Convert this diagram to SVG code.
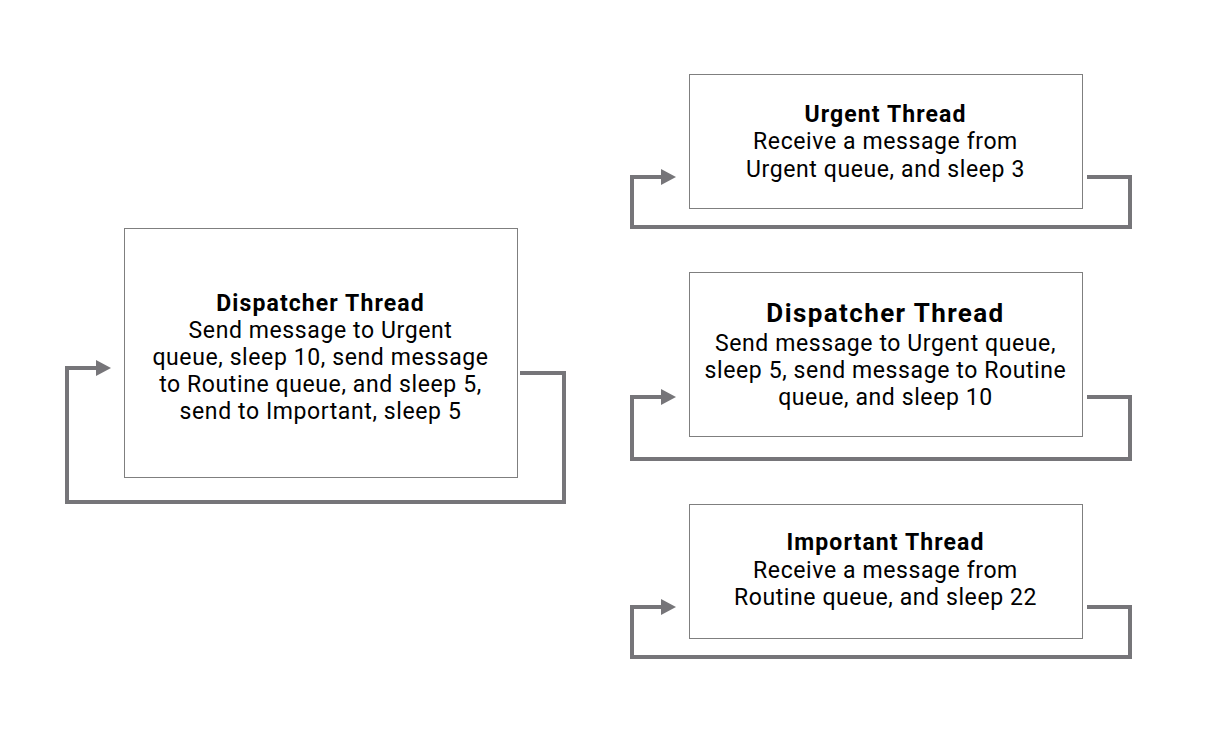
<svg xmlns="http://www.w3.org/2000/svg" width="1215" height="732" viewBox="0 0 1215 732">
<defs>
<style>
.box{fill:#fff;stroke:#7f7f7f;stroke-width:1}
.t{font-family:Roboto,"Open Sans",sans-serif;font-size:23px;letter-spacing:0.6px;fill:#000;text-anchor:middle}
.b{font-weight:bold;font-size:23px;letter-spacing:1.1px}
.big{font-size:26px;letter-spacing:1.4px}
.c{fill:none;stroke:#767579;stroke-width:4}
.ah{fill:#767579}
</style>
</defs>
<rect width="1215" height="732" fill="#fff"/>
<g id="connectors">
<path class="c" d="M520,373 H564 V502 H67 V368 H97"/>
<path class="ah" d="M96,360 L111,368 L96,376 Z"/>
<path class="c" d="M1087,177 H1130 V227 H632 V177 H662"/>
<path class="ah" d="M661,169 L676,177 L661,185 Z"/>
<path class="c" d="M1087,397 H1130 V459 H632 V397 H662"/>
<path class="ah" d="M661,389 L676,397 L661,405 Z"/>
<path class="c" d="M1087,607 H1130 V657 H632 V607 H662"/>
<path class="ah" d="M661,599 L676,607 L661,615 Z"/>
</g>
<g id="dispatcher-left">
<rect class="box" x="124.5" y="228.5" width="393" height="249"/>
<text class="t"><tspan class="b" x="320.5" y="311">Dispatcher Thread</tspan><tspan x="320.5" y="338">Send message to Urgent</tspan><tspan x="320.5" y="365">queue, sleep 10, send message</tspan><tspan x="320.5" y="392">to Routine queue, and sleep 5,</tspan><tspan x="320.5" y="419">send to Important, sleep 5</tspan></text>
</g>
<g id="urgent">
<rect class="box" x="689.5" y="74.5" width="393" height="134"/>
<text class="t"><tspan class="b" x="885.5" y="122">Urgent Thread</tspan><tspan x="885.5" y="149">Receive a message from</tspan><tspan x="885.5" y="177">Urgent queue, and sleep 3</tspan></text>
</g>
<g id="dispatcher-right">
<rect class="box" x="689.5" y="272.5" width="393" height="164"/>
<text class="t"><tspan class="b big" x="885.5" y="322">Dispatcher Thread</tspan><tspan x="885.5" y="351">Send message to Urgent queue,</tspan><tspan x="885.5" y="378">sleep 5, send message to Routine</tspan><tspan x="885.5" y="405">queue, and sleep 10</tspan></text>
</g>
<g id="important">
<rect class="box" x="689.5" y="504.5" width="393" height="134"/>
<text class="t"><tspan class="b" x="885.5" y="550">Important Thread</tspan><tspan x="885.5" y="578">Receive a message from</tspan><tspan x="885.5" y="605">Routine queue, and sleep 22</tspan></text>
</g>
</svg>
